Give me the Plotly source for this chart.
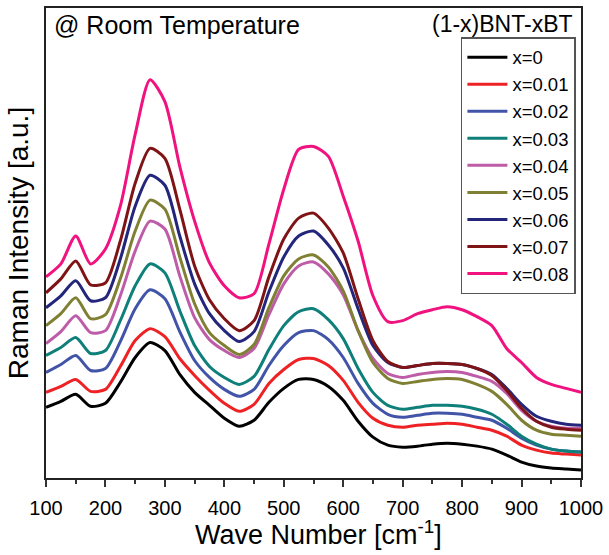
import plotly.graph_objects as go

wavenumber = [100, 125, 150, 175, 200, 225, 250, 275, 300, 325, 350, 375, 400, 425, 450,
              475, 500, 525, 550, 575, 600, 625, 650, 675, 700, 725, 750, 775, 800, 825,
              850, 875, 900, 925, 950, 975, 1000]

x_000 = [71, 77, 84, 72, 75, 96, 121, 136, 128, 104, 86, 73, 60, 52, 58, 76, 90, 99, 99, 92,
         78, 57, 41, 33, 31, 32, 34, 35, 34, 32, 29, 23, 16, 12, 10, 9, 8]
x_001 = [86, 92, 99, 87, 89, 112, 138, 150, 142, 120, 103, 88, 75, 67, 74, 95, 109, 119, 120, 113,
         98, 76, 60, 53, 51, 53, 54, 55, 54, 51, 48, 42, 33, 28, 25, 24, 23]
x_002 = [106, 114, 123, 108, 110, 137, 170, 189, 180, 147, 118, 101, 89, 82, 89, 113, 133, 146, 148, 139,
         121, 95, 75, 64, 61, 63, 65, 65, 64, 61, 58, 50, 40, 33, 29, 27, 26]
x_003 = [123, 131, 141, 125, 128, 158, 193, 215, 206, 168, 133, 112, 101, 94, 102, 129, 153, 167, 170, 159,
         140, 110, 86, 73, 69, 71, 73, 73, 72, 69, 64, 54, 42, 34, 29, 27, 26]
x_004 = [135, 147, 163, 146, 148, 183, 228, 258, 250, 203, 161, 139, 128, 121, 130, 164, 195, 213, 217, 205,
         184, 148, 120, 105, 101, 104, 106, 107, 106, 102, 97, 85, 68, 57, 52, 50, 50]
x_005 = [153, 165, 181, 160, 164, 200, 248, 279, 270, 222, 175, 146, 133, 124, 134, 171, 203, 220, 224, 212,
         188, 148, 116, 100, 95, 97, 99, 100, 99, 94, 87, 74, 58, 48, 44, 43, 42]
x_006 = [171, 183, 198, 178, 181, 220, 273, 304, 294, 243, 195, 165, 148, 137, 147, 187, 222, 243, 248, 234,
         211, 170, 133, 116, 111, 113, 115, 115, 114, 110, 104, 90, 74, 62, 57, 54, 53]
x_007 = [186, 200, 218, 194, 196, 238, 296, 331, 321, 270, 213, 179, 160, 148, 158, 202, 240, 261, 266, 251,
         226, 180, 138, 117, 111, 113, 115, 115, 114, 110, 103, 88, 70, 57, 51, 49, 48]
x_008 = [202, 215, 243, 215, 230, 273, 345, 400, 378, 313, 258, 216, 193, 181, 185, 235, 290, 330, 333, 323,
         283, 238, 183, 157, 158, 165, 169, 172, 169, 162, 153, 130, 116, 101, 94, 90, 86]

series_names = ["x=0", "x=0.01", "x=0.02", "x=0.03", "x=0.04", "x=0.05", "x=0.06", "x=0.07", "x=0.08"]
series_values = [x_000, x_001, x_002, x_003, x_004, x_005, x_006, x_007, x_008]
series_colors = ["#000000", "#EE2224", "#4254A8", "#0F7F7A", "#BE5CA8", "#7F8033",
                 "#23267A", "#7E1416", "#F0127F"]

x_ticks = [100, 200, 300, 400, 500, 600, 700, 800, 900, 1000]

fig = go.Figure()
for name, vals, col in zip(series_names, series_values, series_colors):
    fig.add_trace(go.Scatter(x=wavenumber, y=vals, mode="lines", name=name,
                             line=dict(color=col, width=3, shape="spline", smoothing=0.7)))

FONT = "Liberation Sans, Arial, sans-serif"
fig.update_layout(
    width=609, height=555,
    margin=dict(l=46, r=24, t=6, b=77),
    paper_bgcolor="white", plot_bgcolor="white",
    font=dict(family=FONT, color="black"),
    showlegend=True,
    legend=dict(x=0.7755, y=0.938, xanchor="left", yanchor="top",
                bgcolor="white", bordercolor="#555555", borderwidth=1.5,
                font=dict(size=18.5, family=FONT), tracegroupgap=0,
                itemwidth=40),
    xaxis=dict(range=[100, 1000], tickvals=x_ticks, ticks="outside", ticklen=7, tickwidth=2,
               tickcolor="#333333", showline=True, linecolor="#222222", linewidth=2, mirror=True,
               showgrid=False, zeroline=False, tickfont=dict(size=20, family=FONT),
               ticklabelstandoff=4,
               minor=dict(dtick=50, tick0=100, ticks="outside", ticklen=4, tickwidth=2, tickcolor="#333333")),
    yaxis=dict(range=[0, 472], showticklabels=False, ticks="", showline=True, linecolor="#222222",
               linewidth=2, mirror=True, showgrid=False, zeroline=False),
    annotations=[
        dict(text="Wave Number [cm<sup>-1</sup>]", xref="paper", yref="paper", x=0.51, y=-0.118,
             showarrow=False, xanchor="center", yanchor="middle",
             font=dict(size=27, family=FONT)),
        dict(text="Raman Intensity [a.u.]", xref="paper", yref="paper", x=-0.052, y=0.5,
             textangle=-90, showarrow=False, xanchor="center", yanchor="middle",
             font=dict(size=28, family=FONT)),
        dict(text="@ Room Temperature", xref="paper", yref="paper", x=0.012, y=0.997,
             showarrow=False, xanchor="left", yanchor="top", font=dict(size=25, family=FONT)),
        dict(text="(1-x)BNT-xBT", xref="paper", yref="paper", x=0.988, y=0.997,
             showarrow=False, xanchor="right", yanchor="top", font=dict(size=23, family=FONT)),
    ],
)

fig.write_html("out.html", config={"displayModeBar": False},
               post_script="document.body.style.margin='0';document.body.style.padding='0';")
